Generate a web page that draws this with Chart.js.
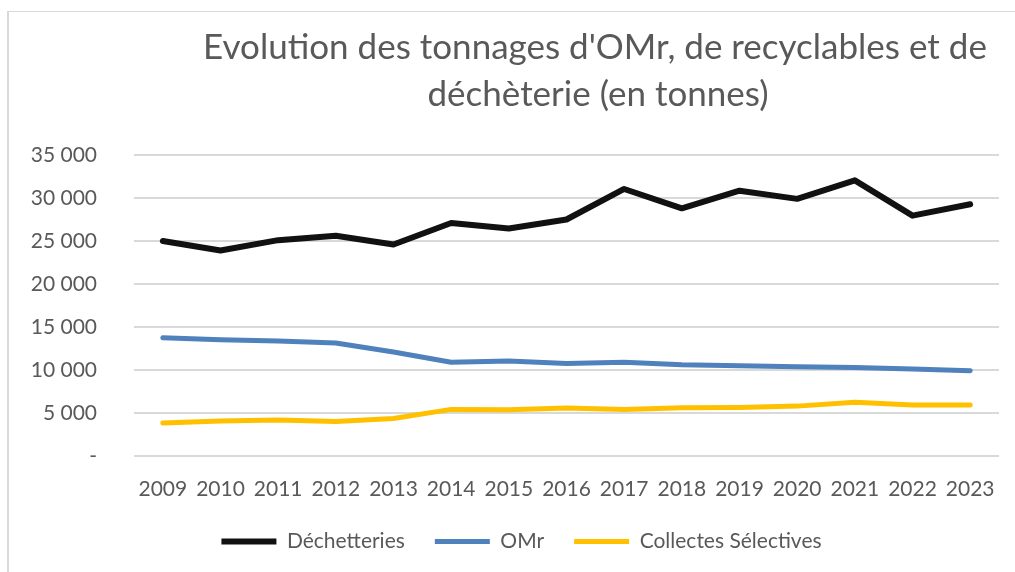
<!DOCTYPE html>
<html>
<head>
<meta charset="utf-8">
<script src="https://cdn.jsdelivr.net/npm/chart.js@4/dist/chart.umd.min.js"></script>
<style>
  body { margin: 0; background: #fff; }
  #wrap { position: relative; width: 1015px; height: 572px; }
  #frame { position: absolute; left: 7px; top: 11px; right: 0; bottom: 0;
           border-left: 2px solid #d9d9d9; border-top: 1px solid #d9d9d9; }
  canvas { position: absolute; left: 0; top: 0; }
</style>
</head>
<body>
<div id="wrap">
  <div id="frame"></div>
  <canvas id="chart" width="1015" height="572"></canvas>
</div>
<script>
// Données
const years = ["2009", "2010", "2011", "2012", "2013", "2014", "2015", "2016",
               "2017", "2018", "2019", "2020", "2021", "2022", "2023"];
const dechetteries = [25000, 23900, 25100, 25600, 24600, 27100, 26450, 27500,
                      31050, 28800, 30850, 29900, 32050, 27950, 29270];
const omr = [13760, 13530, 13370, 13140, 12090, 10900, 11050, 10750,
             10900, 10620, 10500, 10380, 10300, 10120, 9920];
const collectes = [3830, 4060, 4180, 4020, 4370, 5420, 5380, 5570,
                   5420, 5610, 5650, 5800, 6240, 5920, 5920];
const titleLines = ["Evolution des tonnages d'OMr, de recyclables et de", "déchèterie (en tonnes)"];

const textColor = "#595959";
const fontFamily = "Lato, 'Open Sans', sans-serif";

// titre dessiné à la main pour pouvoir le décaler comme dans l'original
const titlePlugin = {
  id: "customTitle",
  afterDraw: (chart) => {
    const ctx = chart.ctx;
    ctx.save();
    ctx.font = "35px " + fontFamily;
    ctx.fillStyle = textColor;
    ctx.textAlign = "center";
    ctx.textBaseline = "middle";
    ctx.fillText(titleLines[0], 595, 48);
    ctx.fillText(titleLines[1], 598, 95);
    ctx.restore();
  }
};

// la légende est un peu décalée vers la droite dans l'original
const legendShift = {
  id: "legendShift",
  afterLayout: (chart) => {
    chart.legend.left += 22;
    chart.legend.right += 22;
  }
};

function formatTick(value) {
  if (value === 0) return "-";
  return value.toString().replace(/\B(?=(\d{3})+(?!\d))/g, " ");
}

const ctx = document.getElementById("chart").getContext("2d");
const chart = new Chart(ctx, {
  type: "line",
  data: {
    labels: years,
    datasets: [
      {
        label: "Déchetteries",
        data: dechetteries,
        borderColor: "#111111",
        backgroundColor: "#111111",
        borderWidth: 6,
        borderCapStyle: "round",
        borderJoinStyle: "round",
        pointRadius: 0,
        tension: 0
      },
      {
        label: "OMr",
        data: omr,
        borderColor: "#4f81bd",
        backgroundColor: "#4f81bd",
        borderWidth: 5,
        borderCapStyle: "round",
        borderJoinStyle: "round",
        pointRadius: 0,
        tension: 0
      },
      {
        label: "Collectes Sélectives",
        data: collectes,
        borderColor: "#ffc000",
        backgroundColor: "#ffc000",
        borderWidth: 5,
        borderCapStyle: "round",
        borderJoinStyle: "round",
        pointRadius: 0,
        tension: 0
      }
    ]
  },
  options: {
    responsive: false,
    animation: false,
    layout: {
      padding: { top: 155, left: 0, right: 16, bottom: 10 }
    },
    scales: {
      x: {
        offset: true,
        grid: { display: false },
        border: { display: false },
        ticks: {
          color: textColor,
          font: { family: fontFamily, size: 21 },
          padding: 13,
          maxRotation: 0,
          autoSkip: false
        },
        afterFit: (scale) => { scale.height = 45; }
      },
      y: {
        min: 0,
        max: 35000,
        grid: { color: "#d9d9d9", lineWidth: 2, drawTicks: false },
        border: { display: false },
        ticks: {
          stepSize: 5000,
          color: textColor,
          font: { family: fontFamily, size: 21 },
          padding: 37,
          callback: formatTick
        },
        afterFit: (scale) => { scale.width = 134; }
      }
    },
    plugins: {
      legend: {
        position: "bottom",
        labels: {
          usePointStyle: true,
          pointStyle: "line",
          pointStyleWidth: 55,
          color: textColor,
          font: { family: fontFamily, size: 21 },
          padding: 30
        }
      },
      tooltip: { enabled: false },
      title: { display: false }
    }
  },
  plugins: [titlePlugin, legendShift]
});
</script>
</body>
</html>
